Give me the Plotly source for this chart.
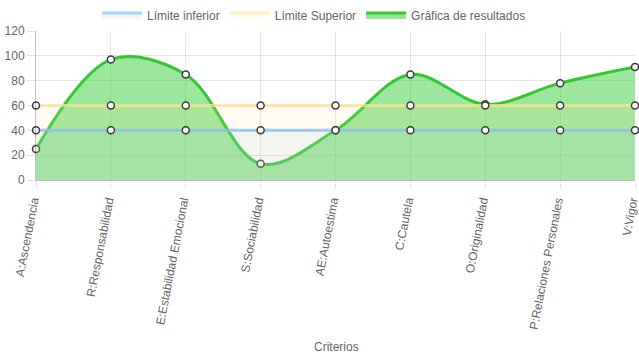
import plotly.graph_objects as go

categorias = ["A:Ascendencia", "R:Responsabilidad", "E:Estabilidad Emocional",
              "S:Sociabilidad", "AE:Autoestima", "C:Cautela", "O:Originalidad",
              "P:Relaciones Personales", "V:Vigor"]
limite_inferior = [40, 40, 40, 40, 40, 40, 40, 40, 40]
limite_superior = [60, 60, 60, 60, 60, 60, 60, 60, 60]
resultados = [25, 97, 85, 13, 40, 85, 61, 78, 91]

FONT = "Liberation Sans, Arial, Helvetica, sans-serif"
marker = dict(size=7, color="white", line=dict(color="rgb(60,60,60)", width=1.5))

W, H = 639, 360
L, T, R, B = 36, 31, 4, 180
PH = H - T - B
PW = W - L - R

fig = go.Figure()
fig.add_trace(go.Scatter(
    x=categorias, y=resultados, name="Gráfica de resultados", showlegend=False,
    mode="lines+markers", line=dict(color="rgb(50,200,50)", width=3, shape="spline", smoothing=1.0),
    fill="tozeroy", fillcolor="rgba(60,205,60,0.5)", marker=marker, cliponaxis=False,
    hoverinfo="skip"))
fig.add_trace(go.Scatter(
    x=categorias, y=limite_superior, name="Límite Superior", showlegend=False,
    mode="lines+markers", line=dict(color="rgba(255,225,140,0.75)", width=3),
    fill="tozeroy", fillcolor="rgba(255,225,150,0.12)", marker=marker, cliponaxis=False,
    hoverinfo="skip"))
fig.add_trace(go.Scatter(
    x=categorias, y=limite_inferior, name="Límite inferior", showlegend=False,
    mode="lines+markers", line=dict(color="rgba(140,190,240,0.8)", width=3),
    fill="tozeroy", fillcolor="rgba(160,205,240,0.12)", marker=marker, cliponaxis=False,
    hoverinfo="skip"))

# legend swatches (box style)
for name, lc, fc, rank in [
    ("Límite inferior", "rgb(170,210,245)", "rgb(240,246,253)", 1),
    ("Límite Superior", "rgb(255,240,190)", "rgb(255,252,240)", 2),
    ("Gráfica de resultados", "rgb(50,200,50)", "rgb(150,228,150)", 3),
]:
    fig.add_trace(go.Scatter(x=[None], y=[None], name=name, mode="lines", fill="toself",
                             line=dict(color=lc, width=3), fillcolor=fc,
                             legendrank=rank, hoverinfo="skip"))

fig.update_layout(
    width=W, height=H,
    margin=dict(l=L, r=R, t=T, b=B, autoexpand=False),
    paper_bgcolor="white", plot_bgcolor="white",
    font=dict(family=FONT, size=12, color="#666"),
    showlegend=True,
    legend=dict(orientation="h", x=(314 - L) / PW, xanchor="center",
                y=1 + 16 / PH, yanchor="middle",
                font=dict(size=12, color="#666"), itemwidth=40, traceorder="normal"),
    xaxis=dict(type="category", range=[0, 8], tickangle=-79, automargin=False,
               ticklabelshift=-3,
               showgrid=True, gridcolor="rgba(0,0,0,0.1)", gridwidth=1,
               showline=True, linecolor="rgba(0,0,0,0.25)", linewidth=1,
               ticks="outside", ticklen=8, tickcolor="rgba(0,0,0,0.1)",
               tickfont=dict(size=12, color="#666")),
    yaxis=dict(range=[0, 120], dtick=20, showgrid=True, gridcolor="rgba(0,0,0,0.1)",
               automargin=False,
               showline=True, linecolor="rgba(0,0,0,0.25)", linewidth=1,
               ticks="outside", ticklen=8, tickcolor="rgba(0,0,0,0.1)",
               zeroline=False, tickfont=dict(size=12, color="#666")),
    annotations=[dict(text="Criterios", xref="paper", yref="paper",
                      x=(336 - L) / PW, y=-(347 - (H - B)) / PH,
                      yanchor="middle", xanchor="center", showarrow=False,
                      font=dict(size=12, color="#666"))],
)

fig.write_html("out.html", config={"displayModeBar": False},
               post_script="document.body.style.margin='0';document.body.style.overflow='hidden';")
